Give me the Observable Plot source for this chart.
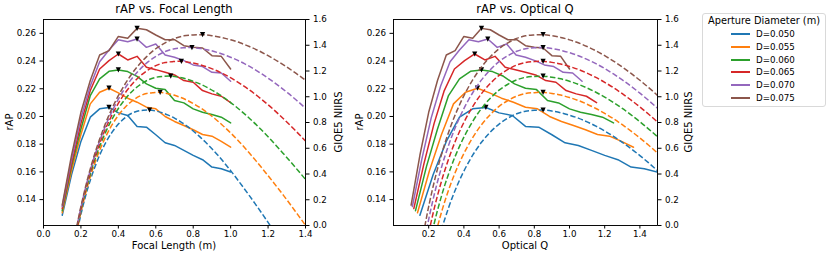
<!DOCTYPE html>
<html>
<head>
<meta charset="utf-8">
<script src="https://cdn.jsdelivr.net/npm/d3@7"></script>
<script src="https://cdn.jsdelivr.net/npm/@observablehq/plot@0.6"></script>
<style>
  html, body { margin: 0; padding: 0; background: #fff; }
  #fig { position: relative; width: 831px; height: 257px; overflow: hidden; font-family: "DejaVu Sans", sans-serif; color: #000; }
  .layer { position: absolute; top: 0; width: 360px; height: 257px; }
  .txt { position: absolute; white-space: nowrap; line-height: 1; font-family: "DejaVu Sans", sans-serif; color: #000; transform: translate(-50%, -50%); }
  .rot { transform: translate(-50%, -50%) rotate(-90deg); }
  #legend { position: absolute; left: 702px; top: 13px; width: 124px; height: 94px; border: 1px solid #d9d9d9; border-radius: 3px; background: #fff; box-sizing: border-box; }
</style>
</head>
<body>
<div id="fig"></div>
<script>
// ---------- data ----------
const diameters = ["D=0.050", "D=0.055", "D=0.060", "D=0.065", "D=0.070", "D=0.075"];
const lineColors = ["#1f77b4", "#ff7f0e", "#2ca02c", "#d62728", "#9467bd", "#8c564b"];

// Optical Q reached per metre of focal length, for each aperture (Q at f = 1.0 m)
const qPerFocal = [1.5, 1.3636, 1.25, 1.1538, 1.0714, 1.0];

// rAP (solid lines) sampled at these focal lengths (m)
const focalLengths = [0.10, 0.15, 0.20, 0.25, 0.30, 0.35, 0.40, 0.45, 0.50, 0.55, 0.60, 0.65, 0.70, 0.75, 0.80, 0.85, 0.90, 0.95, 1.00];
const rap050 = [0.1287, 0.158, 0.182, 0.1995, 0.2055, 0.2065, 0.2026, 0.2007, 0.1928, 0.1923, 0.1868, 0.1810, 0.1791, 0.1755, 0.1719, 0.1688, 0.1635, 0.1623, 0.1599];
const rap055 = [0.1305, 0.161, 0.187, 0.2091, 0.2175, 0.2204, 0.2170, 0.2132, 0.2103, 0.2067, 0.2055, 0.2000, 0.1964, 0.1935, 0.1904, 0.1870, 0.1858, 0.1820, 0.1778];
const rap060 = [0.1320, 0.164, 0.191, 0.2151, 0.2271, 0.2326, 0.2336, 0.2324, 0.2290, 0.2235, 0.2204, 0.2194, 0.2115, 0.2098, 0.2055, 0.2031, 0.2014, 0.1995, 0.1954];
const rap065 = [0.1335, 0.166, 0.195, 0.2187, 0.2343, 0.2403, 0.2451, 0.2408, 0.2434, 0.2355, 0.2338, 0.2319, 0.2300, 0.2259, 0.2247, 0.2187, 0.2163, 0.2146, 0.2100];
const rap070 = [0.1350, 0.169, 0.199, 0.2220, 0.2395, 0.2480, 0.2554, 0.2540, 0.2559, 0.2499, 0.2523, 0.2444, 0.2427, 0.2403, 0.2372, 0.2360, 0.2319, 0.2314, 0.2254];
const rap075 = [0.1360, 0.172, 0.203, 0.2260, 0.2444, 0.2475, 0.2578, 0.2564, 0.2636, 0.2626, 0.2588, 0.2554, 0.2554, 0.2511, 0.2499, 0.2494, 0.2439, 0.2434, 0.2343];

// GIQE5 NIIRS (dashed lines) sampled at these Optical Q values
const niirsQ = [0.17, 0.18, 0.19, 0.20, 0.22, 0.24, 0.26, 0.28, 0.30, 0.33, 0.36, 0.40, 0.45, 0.50, 0.55, 0.60, 0.65, 0.70, 0.75, 0.80, 0.85, 0.90, 0.95, 1.00, 1.05, 1.10, 1.15, 1.20, 1.25, 1.30, 1.35, 1.40, 1.45, 1.50, 1.55, 1.60, 1.65, 1.70, 1.75, 1.80, 1.85, 1.90, 1.95];
const niirs050 = [null, null, null, null, null, null, -0.095, 0.000, 0.086, 0.203, 0.305, 0.423, 0.546, 0.646, 0.725, 0.788, 0.834, 0.868, 0.888, 0.895, 0.897, 0.889, 0.876, 0.857, 0.834, 0.805, 0.772, 0.734, 0.692, 0.646, 0.596, 0.543, 0.486, 0.426, 0.363, 0.298, 0.232, 0.164, 0.095, 0.024, -0.049, null, null];
const niirs055 = [null, null, null, null, null, -0.061, 0.042, 0.137, 0.223, 0.340, 0.442, 0.560, 0.683, 0.783, 0.862, 0.925, 0.971, 1.005, 1.025, 1.032, 1.034, 1.026, 1.013, 0.994, 0.971, 0.942, 0.909, 0.871, 0.829, 0.783, 0.733, 0.680, 0.623, 0.563, 0.500, 0.435, 0.369, 0.301, 0.232, 0.161, 0.088, 0.015, -0.061];
const niirs060 = [null, null, null, null, -0.049, 0.065, 0.168, 0.263, 0.349, 0.466, 0.568, 0.686, 0.809, 0.909, 0.988, 1.051, 1.097, 1.131, 1.151, 1.158, 1.160, 1.152, 1.139, 1.120, 1.097, 1.068, 1.035, 0.997, 0.955, 0.909, 0.859, 0.806, 0.749, 0.689, 0.626, 0.561, 0.495, 0.427, 0.358, 0.287, null, null, null];
const niirs065 = [null, null, null, -0.059, 0.066, 0.180, 0.283, 0.378, 0.464, 0.581, 0.683, 0.801, 0.924, 1.024, 1.103, 1.166, 1.212, 1.246, 1.266, 1.273, 1.275, 1.267, 1.254, 1.235, 1.212, 1.183, 1.150, 1.112, 1.070, 1.024, 0.974, 0.921, 0.864, 0.804, 0.741, 0.676, 0.610, null, null, null, null, null, null];
const niirs070 = [null, -0.092, -0.020, 0.048, 0.173, 0.287, 0.390, 0.485, 0.571, 0.688, 0.790, 0.908, 1.031, 1.131, 1.210, 1.273, 1.319, 1.353, 1.373, 1.380, 1.382, 1.374, 1.361, 1.342, 1.319, 1.290, 1.257, 1.219, 1.177, 1.131, 1.081, 1.028, 0.971, 0.911, 0.848, null, null, null, null, null, null, null, null];
const niirs075 = [-0.069, 0.008, 0.080, 0.148, 0.273, 0.387, 0.490, 0.585, 0.671, 0.788, 0.890, 1.008, 1.131, 1.231, 1.310, 1.373, 1.419, 1.453, 1.473, 1.480, 1.482, 1.474, 1.461, 1.442, 1.419, 1.390, 1.357, 1.319, 1.277, 1.231, 1.181, 1.128, 1.071, 1.011, 0.948, null, null, null, null, null, null, null, null];

// axis ticks
const rapTicks = [0.14, 0.16, 0.18, 0.20, 0.22, 0.24, 0.26];
const niirsTicks = [0.0, 0.2, 0.4, 0.6, 0.8, 1.0, 1.2, 1.4, 1.6];
const focalTicks = [0.0, 0.2, 0.4, 0.6, 0.8, 1.0, 1.2, 1.4];
const qTicks = [0.2, 0.4, 0.6, 0.8, 1.0, 1.2, 1.4];

// ---------- tables ----------
const rapSeries = [rap050, rap055, rap060, rap065, rap070, rap075];
const niirsSeries = [niirs050, niirs055, niirs060, niirs065, niirs070, niirs075];

const solidRows = diameters.flatMap((D, s) =>
  rapSeries[s].map((v, i) => ({D, f: focalLengths[i], q: focalLengths[i] * qPerFocal[s], rap: v})));
const dashedRows = diameters.flatMap((D, s) =>
  niirsSeries[s].map((v, i) => v == null ? null : ({D, q: niirsQ[i], f: niirsQ[i] / qPerFocal[s], niirs: v})).filter(Boolean));

// ---------- drawing ----------
const fig = document.getElementById("fig");
const triangleDown = {
  draw(ctx, size) {
    const a = Math.sqrt(size / Math.PI);
    ctx.moveTo(0, a); ctx.lineTo(-a, -a); ctx.lineTo(a, -a); ctx.closePath();
  }
};
const colorScale = {domain: diameters, range: lineColors};
const rapDomain = [0.1213, 0.2700];

function base(marginRight, xDomain, xTicks, showX) {
  return {
    width: 360, height: 257,
    marginLeft: 43, marginRight, marginTop: 19, marginBottom: 32,
    style: {background: "none", maxWidth: "none", fontFamily: "DejaVu Sans", fontSize: "8.7px", color: "#000", overflow: "visible"},
    color: colorScale,
    x: {domain: xDomain, ticks: xTicks, tickFormat: d3.format(".1f"), tickSize: 3.5, tickPadding: 1.5, label: null, axis: showX ? "bottom" : null}
  };
}

function panel(left, marginRight, xKey, xDomain, xTicks) {
  const solid = Plot.plot({
    ...base(marginRight, xDomain, xTicks, true),
    y: {domain: rapDomain, ticks: rapTicks, tickFormat: d3.format(".2f"), tickSize: 3.5, tickPadding: 4, label: null, axis: "left"},
    marks: [
      Plot.line(solidRows, {x: xKey, y: "rap", z: "D", stroke: "D", strokeWidth: 1.5, clip: true}),
      Plot.dot(solidRows, Plot.selectMaxY({x: xKey, y: "rap", z: "D", fill: "black", stroke: "none", r: 2.6, symbol: triangleDown})),
      Plot.frame({stroke: "black", strokeWidth: 0.8})
    ]
  });
  const dashed = Plot.plot({
    ...base(marginRight, xDomain, xTicks, false),
    y: {domain: [0, 1.6], ticks: niirsTicks, tickFormat: d3.format(".1f"), tickSize: 3.5, tickPadding: 4, label: null, axis: "right"},
    marks: [
      Plot.line(dashedRows, {x: xKey, y: "niirs", z: "D", stroke: "D", strokeWidth: 1.5, strokeDasharray: "5.5,2.4", strokeLinecap: "butt", curve: "catmull-rom", clip: true}),
      Plot.dot(dashedRows, Plot.selectMaxY({x: xKey, y: "niirs", z: "D", fill: "black", stroke: "none", r: 2.6, symbol: triangleDown})),
      Plot.frame({stroke: "black", strokeWidth: 0.8})
    ]
  });
  for (const svg of [solid, dashed]) {
    const d = document.createElement("div");
    d.className = "layer";
    d.style.left = left + "px";
    d.appendChild(svg);
    fig.appendChild(d);
  }
}

panel(0, 55, "f", [0, 1.4], focalTicks);
panel(350, 53, "q", [0, 1.5], qTicks);

function label(text, x, y, size, rotate) {
  const d = document.createElement("div");
  d.className = "txt" + (rotate ? " rot" : "");
  d.style.left = x + "px";
  d.style.top = y + "px";
  d.style.fontSize = size + "px";
  d.textContent = text;
  fig.appendChild(d);
}
label("rAP vs. Focal Length", 174, 10, 11.6);
label("rAP vs. Optical Q", 525, 10, 11.6);
label("Focal Length (m)", 174, 246, 10);
label("Optical Q", 525, 246, 10);
label("rAP", 10, 122, 10, true);
label("GIQE5 NIIRS", 339, 122, 10, true);
label("rAP", 360, 122, 10, true);
label("GIQE5 NIIRS", 689, 122, 10, true);

// legend
const legend = document.createElement("div");
legend.id = "legend";
fig.appendChild(legend);
label("Aperture Diameter (m)", 764, 21, 9.8);
diameters.forEach((D, i) => {
  const y = 33.7 + i * 12.9;
  const line = document.createElement("div");
  line.style.cssText = `position:absolute;left:731px;top:${Math.round(y) - 1}px;width:19px;height:2px;background:${lineColors[i]};`;
  fig.appendChild(line);
  const t = document.createElement("div");
  t.className = "txt";
  t.style.cssText += `left:756px;top:${y}px;font-size:8.7px;transform:translate(0,-50%);`;
  t.textContent = D;
  fig.appendChild(t);
});
</script>
</body>
</html>
